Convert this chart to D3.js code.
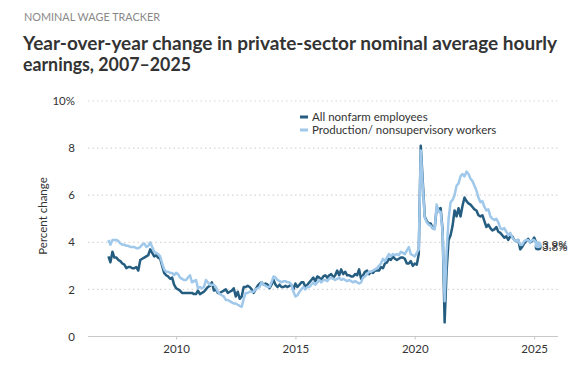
<!DOCTYPE html>
<html><head><meta charset="utf-8">
<script src="https://cdn.jsdelivr.net/npm/d3@7"></script>
<style>
body{margin:0;background:#fff;font-family:Lato,"Open Sans",sans-serif;}
svg{display:block;}
</style></head>
<body>
<svg id="chart" width="588" height="366"></svg>
<script>
// Monthly series, March 2007 – March 2025
const startYear = 2007, startMonth = 3;
const allNonfarm = [
 3.4,3.15,3.6,3.35,3.35,3.25,3.2,3.1,3.05,2.9,
 2.95,2.95,2.9,2.9,2.95,2.8,3.25,3.3,3.35,3.4,3.45,3.7,
 3.55,3.4,3.45,3.35,3.3,3.0,2.7,2.6,2.55,2.45,2.5,2.2,
 2.05,2.0,1.95,1.85,1.85,1.85,1.85,1.85,1.85,1.8,1.8,1.95,
 1.8,1.85,1.9,2.0,2.1,2.15,2.3,1.95,2.0,1.85,1.85,1.9,
 1.95,2.0,1.85,1.9,1.95,2.05,1.7,1.9,1.6,1.7,2.1,2.1,
 2.15,2.1,2.0,1.85,2.0,2.15,2.25,2.3,2.2,2.25,2.2,2.05,
 2.2,2.4,2.2,2.1,2.2,2.1,2.1,2.15,2.1,2.15,2.2,2.0,
 2.25,2.1,2.2,2.3,2.3,2.1,2.2,2.3,2.4,2.5,2.35,2.55,
 2.5,2.4,2.55,2.6,2.5,2.6,2.65,2.5,2.6,2.8,2.6,2.85,
 2.65,2.75,2.6,2.6,2.55,2.55,2.65,2.6,2.85,2.45,2.6,2.75,
 2.8,2.65,2.75,2.7,2.8,2.8,2.8,2.95,2.9,3.1,3.15,3.3,
 3.25,3.4,3.3,3.25,3.3,3.35,3.35,3.3,3.1,3.1,3.2,3.0,
 3.1,3.05,3.5,8.1,6.6,5.1,4.9,4.8,4.8,4.6,4.6,5.45,
 5.4,5.45,4.5,0.6,2.8,4.1,4.3,4.7,5.35,5.1,5.45,5.1,
 5.55,5.9,5.75,5.65,5.6,5.5,5.4,5.35,5.15,5.1,5.15,4.9,
 4.65,4.75,4.6,4.5,4.55,4.65,4.45,4.4,4.3,4.2,4.25,4.1,
 4.25,4.25,4.1,4.05,4.1,3.7,3.8,3.95,4.05,4.15,4.0,4.05,
 4.2,4.0,3.8
];
const productionWorkers = [
 4.1,3.9,4.1,4.1,4.1,4.05,3.95,3.9,3.9,3.85,
 3.85,3.8,3.8,3.8,3.75,3.75,3.8,3.9,3.95,3.8,3.85,4.0,
 3.8,3.6,3.55,3.5,3.4,3.1,2.85,2.75,2.75,2.7,2.7,2.6,
 2.7,2.65,2.5,2.45,2.4,2.4,2.5,2.6,2.3,2.35,2.4,2.05,
 2.1,2.05,2.1,2.4,2.3,2.2,2.2,2.2,2.1,1.9,1.8,1.75,
 1.7,1.55,1.55,1.5,1.45,1.4,1.4,1.35,1.3,1.26,1.6,1.85,
 1.85,1.9,1.9,1.9,2.0,2.05,2.1,2.3,2.2,2.15,2.1,2.1,
 2.3,2.55,2.5,2.4,2.35,2.3,2.35,2.35,2.3,2.3,2.2,1.9,
 1.7,1.75,1.9,2.0,2.1,2.0,2.1,2.1,2.2,2.3,2.2,2.3,
 2.4,2.3,2.4,2.4,2.35,2.45,2.5,2.45,2.4,2.45,2.5,2.4,
 2.45,2.4,2.35,2.4,2.35,2.3,2.35,2.3,2.25,2.3,2.5,2.55,
 2.65,2.75,2.75,2.8,2.85,2.9,3.0,3.1,3.3,3.2,3.35,3.5,
 3.4,3.5,3.45,3.5,3.45,3.6,3.55,3.5,3.65,3.8,3.5,3.45,
 3.4,3.55,3.7,7.9,6.4,5.05,4.85,4.75,4.7,4.6,4.55,5.6,
 5.3,5.3,4.4,1.5,3.6,5.0,5.7,5.8,6.0,6.4,6.5,6.8,
 6.9,6.8,7.0,6.9,6.7,6.6,6.4,6.2,5.9,5.7,5.75,5.5,
 5.35,5.4,5.1,5.0,4.95,5.0,4.85,4.6,4.55,4.6,4.45,4.3,
 4.4,4.2,4.1,4.05,4.1,3.9,3.9,4.05,4.1,4.1,4.0,4.1,
 4.1,4.0,3.9
];
const seriesNames = ["All nonfarm employees", "Production/ nonsupervisory workers"];
const seriesColors = ["#245d80", "#9fc8ea"];
const yTicks = [0, 2, 4, 6, 8, 10];
const xTicks = [2010, 2015, 2020, 2025];

const svg = d3.select("#chart");
const x = d3.scaleLinear().domain([2006.31, 2026.0]).range([88, 558]);
const y = d3.scaleLinear().domain([0, 10]).range([336.5, 101]);

const toDate = i => startYear + (startMonth - 1 + i) / 12;

// Header
svg.append("text").attr("x", 24).attr("y", 21).attr("fill", "#888")
  .attr("font-size", 11.5).attr("textLength", 136).attr("lengthAdjust", "spacingAndGlyphs")
  .text("NOMINAL WAGE TRACKER");
svg.append("text").attr("x", 23).attr("y", 50).attr("fill", "#333").attr("font-weight", 700)
  .attr("font-size", 18).attr("textLength", 534).attr("lengthAdjust", "spacingAndGlyphs")
  .text("Year-over-year change in private-sector nominal average hourly");
svg.append("text").attr("x", 23).attr("y", 71).attr("fill", "#333").attr("font-weight", 700)
  .attr("font-size", 18).attr("textLength", 168).attr("lengthAdjust", "spacingAndGlyphs")
  .text("earnings, 2007\u20132025");

// Grid
const yAxis = d3.axisLeft(y).tickValues(yTicks).tickSize(0).tickPadding(0)
  .tickFormat(d => d === 10 ? "10%" : d);
const gy = svg.append("g").attr("transform", "translate(75,0)").call(yAxis);
gy.select(".domain").remove();
gy.selectAll("text").attr("font-size", 11.5).attr("fill", "#333").attr("font-family", "Lato,sans-serif");

svg.append("g").selectAll("line").data(yTicks.filter(d => d > 0)).join("line")
  .attr("x1", 88).attr("x2", 558).attr("y1", d => y(d)).attr("y2", d => y(d))
  .attr("stroke", "#d6d6d6").attr("stroke-width", 1.2).attr("stroke-dasharray", "1.5,3");

// x axis
const xAxis = d3.axisBottom(x).tickValues(xTicks).tickFormat(d3.format("d")).tickSize(3).tickPadding(5);
const gx = svg.append("g").attr("transform", `translate(0,${y(0)})`).call(xAxis);
gx.select(".domain").attr("stroke", "#c8c8c8").attr("d", "M88,0H558");
gx.selectAll(".tick line").attr("stroke", "#c8c8c8");
gx.selectAll("text").attr("font-size", 11.5).attr("fill", "#333").attr("font-family", "Lato,sans-serif");

// y label
svg.append("text").attr("transform", "translate(47,216) rotate(-90)").attr("text-anchor", "middle")
  .attr("font-size", 11.5).attr("fill", "#333").text("Percent change");

// Lines
const line = d3.line().x((d, i) => x(toDate(i))).y(d => y(d));
[allNonfarm, productionWorkers].forEach((s, k) => {
  svg.append("path").datum(s).attr("d", line).attr("fill", "none")
    .attr("stroke", seriesColors[k]).attr("stroke-width", 2.5).attr("stroke-linejoin", "round");
});
[allNonfarm, productionWorkers].forEach((s, k) => {
  const i = s.length - 1;
  svg.append("circle").attr("cx", x(toDate(i))).attr("cy", y(s[i])).attr("r", 3.5)
    .attr("fill", seriesColors[k]);
});
[allNonfarm, productionWorkers].forEach((s, k) => {
  const i = s.length - 1;
  svg.append("text").attr("x", x(toDate(i)) + 4).attr("y", y(s[i])).attr("dy", "0.35em")
    .attr("font-size", 11.5).attr("fill", "#333").text(s[i].toFixed(1) + "%");
});

// Legend
const lg = svg.append("g");
seriesNames.forEach((n, k) => {
  lg.append("line").attr("x1", 300).attr("x2", 308).attr("y1", 117 + k * 13).attr("y2", 117 + k * 13)
    .attr("stroke", seriesColors[k]).attr("stroke-width", 3);
  lg.append("text").attr("x", 312).attr("y", 117 + k * 13).attr("dy", "0.35em")
    .attr("font-size", 11.5).attr("fill", "#333").text(n);
});
</script>
</body></html>
